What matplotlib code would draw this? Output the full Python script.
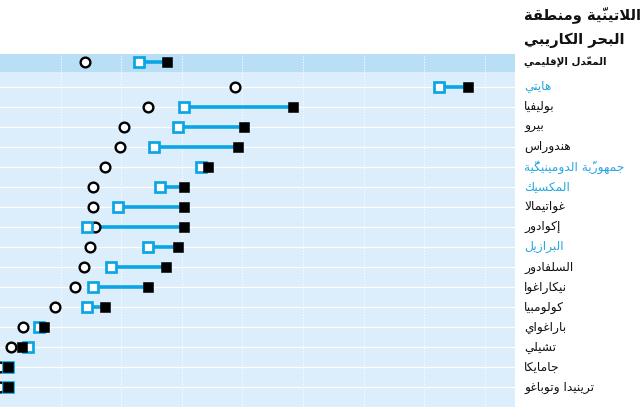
import matplotlib
matplotlib.use("Agg")
import matplotlib.pyplot as plt
from matplotlib.transforms import blended_transform_factory

# --- data (gridlines every 5) ---
title_lines = ["اللاتينيّة ومنطقة", "البحر الكاريبي"]
avg_label = "المعدّل الإقليمي"
countries = ["هايتي", "بوليفيا", "بيرو", "هندوراس", "جمهوريّة الدومينيكيّة",
             "المكسيك", "غواتيمالا", "إكوادور", "البرازيل", "السلفادور",
             "نيكاراغوا", "كولومبيا", "باراغواي", "تشيلي", "جامايكا",
             "ترينيدا وتوباغو"]
highlight = [True, False, False, False, True,
             True, False, False, True, False,
             False, False, False, False, False,
             False]
circle_vals = [7.0, 19.4, 12.2, 10.2, 9.9, 8.7, 7.7, 7.7, 7.8, 7.4, 6.9, 6.2, 4.5, 1.9, 0.9, 0.0, 0.0]
start_vals = [11.5, 36.2, 15.2, 14.7, 12.7, 16.6, 13.2, 9.7, 7.2, 12.2, 9.2, 7.7, 7.2, 3.2, 2.3, 0.7, 0.7]
end_vals = [13.8, 38.6, 24.2, 20.1, 19.6, 17.2, 15.2, 15.2, 15.2, 14.7, 13.7, 12.2, 8.7, 3.6, 1.8, 0.7, 0.7]
grid_ticks = [5, 10, 15, 20, 25, 30, 35, 40]

BLUE = "#0aa5e4"
LABEL_BLUE = "#2aa6df"
BAND = "#b9dff6"
BG = "#dcedfb"


# matplotlib does no arabic shaping / bidi, so do a small one here
DUAL = {'ب': 0xFE8F, 'ت': 0xFE95, 'ث': 0xFE99, 'ج': 0xFE9D, 'ح': 0xFEA1, 'خ': 0xFEA5,
        'س': 0xFEB1, 'ش': 0xFEB5, 'ص': 0xFEB9, 'ض': 0xFEBD, 'ط': 0xFEC1, 'ظ': 0xFEC5,
        'ع': 0xFEC9, 'غ': 0xFECD, 'ف': 0xFED1, 'ق': 0xFED5, 'ك': 0xFED9, 'ل': 0xFEDD,
        'م': 0xFEE1, 'ن': 0xFEE5, 'ه': 0xFEE9, 'ي': 0xFEF1, 'ئ': 0xFE89}
RIGHT = {'آ': 0xFE81, 'أ': 0xFE83, 'ؤ': 0xFE85, 'إ': 0xFE87, 'ا': 0xFE8D, 'ة': 0xFE93,
         'د': 0xFEA9, 'ذ': 0xFEAB, 'ر': 0xFEAD, 'ز': 0xFEAF, 'و': 0xFEED, 'ى': 0xFEEF}
LAMALEF = {'آ': 0xFEF5, 'أ': 0xFEF7, 'إ': 0xFEF9, 'ا': 0xFEFB}
MARKS = set(chr(c) for c in range(0x064B, 0x0653))


def jtype(c):
    if c.startswith('LA') or c in RIGHT:
        return 'R'
    if c in DUAL:
        return 'D'
    return None


def shape(s):
    toks = []
    for ch in s:
        if ch in MARKS and toks:
            toks[-1][1] += ch
        elif toks and toks[-1][0] == 'ل' and ch in LAMALEF:
            toks[-1][0] = 'LA' + ch
        else:
            toks.append([ch, ''])
    out = []
    for i, (c, m) in enumerate(toks):
        jt = jtype(c)
        jp = jt is not None and i > 0 and jtype(toks[i-1][0]) == 'D'
        jn = jt == 'D' and i < len(toks) - 1 and jtype(toks[i+1][0]) is not None
        if c.startswith('LA'):
            g = chr(LAMALEF[c[2]] + (1 if jp else 0))
        elif jt == 'D':
            g = chr(DUAL[c] + (3 if jp and jn else 1 if jp else 2 if jn else 0))
        elif jt == 'R':
            g = chr(RIGHT[c] + (1 if jp else 0))
        else:
            g = c
        out.append(g + m)
    return ''.join(reversed(out))


plt.rcParams['font.family'] = ['DejaVu Sans']

fig = plt.figure(figsize=(6.4, 4.12), dpi=100)
ax = fig.add_axes([0, 5/412, 515/640, 353/412])
ax.set_facecolor(BG)

ypos = [-0.225] + list(range(1, len(countries) + 1))

ax.axhspan(-0.65, 0.25, color=BAND, lw=0, zorder=0)
for y in ypos[1:]:
    ax.axhline(y, color='white', lw=0.9, zorder=1)
for t in grid_ticks:
    ax.axvline(t, color='white', lw=0.8, ls=(0, (1, 1.5)), zorder=1)

ax.hlines(ypos, start_vals, end_vals, color=BLUE, lw=2.6, zorder=3)
ax.plot(circle_vals, ypos, 'o', ms=7, mfc='white', mec='black', mew=1.7, ls='none', zorder=4)
ax.plot(start_vals, ypos, 's', ms=6.9, mfc='white', mec=BLUE, mew=1.95, ls='none', zorder=5)
ax.plot(end_vals, ypos, 's', ms=7.6, mfc='black', mec='black', mew=0.4, ls='none', zorder=6)

ax.set_xlim(0, 42.5)
ax.set_ylim(17, -0.65)
ax.set_xticks([])
ax.set_yticks([])
for sp in ax.spines.values():
    sp.set_visible(False)

tr = blended_transform_factory(fig.transFigure, ax.transData)
lx = 524/640
ax.text(lx, ypos[0], shape(avg_label), transform=tr, ha='left', va='center',
        fontsize=7.5, fontweight='bold', color='#111111')
for y, name, hl in zip(ypos[1:], countries, highlight):
    ax.text(lx, y, shape(name), transform=tr, ha='left', va='center',
            fontsize=8.8, color=LABEL_BLUE if hl else '#111111')

fig.text(lx, 1 - 15/412, shape(title_lines[0]), ha='left', va='center',
         fontsize=10.5, fontweight='bold', color='#111111')
fig.text(lx, 1 - 40/412, shape(title_lines[1]), ha='left', va='center',
         fontsize=10.5, fontweight='bold', color='#111111')

fig.savefig('out.png', dpi=100)
